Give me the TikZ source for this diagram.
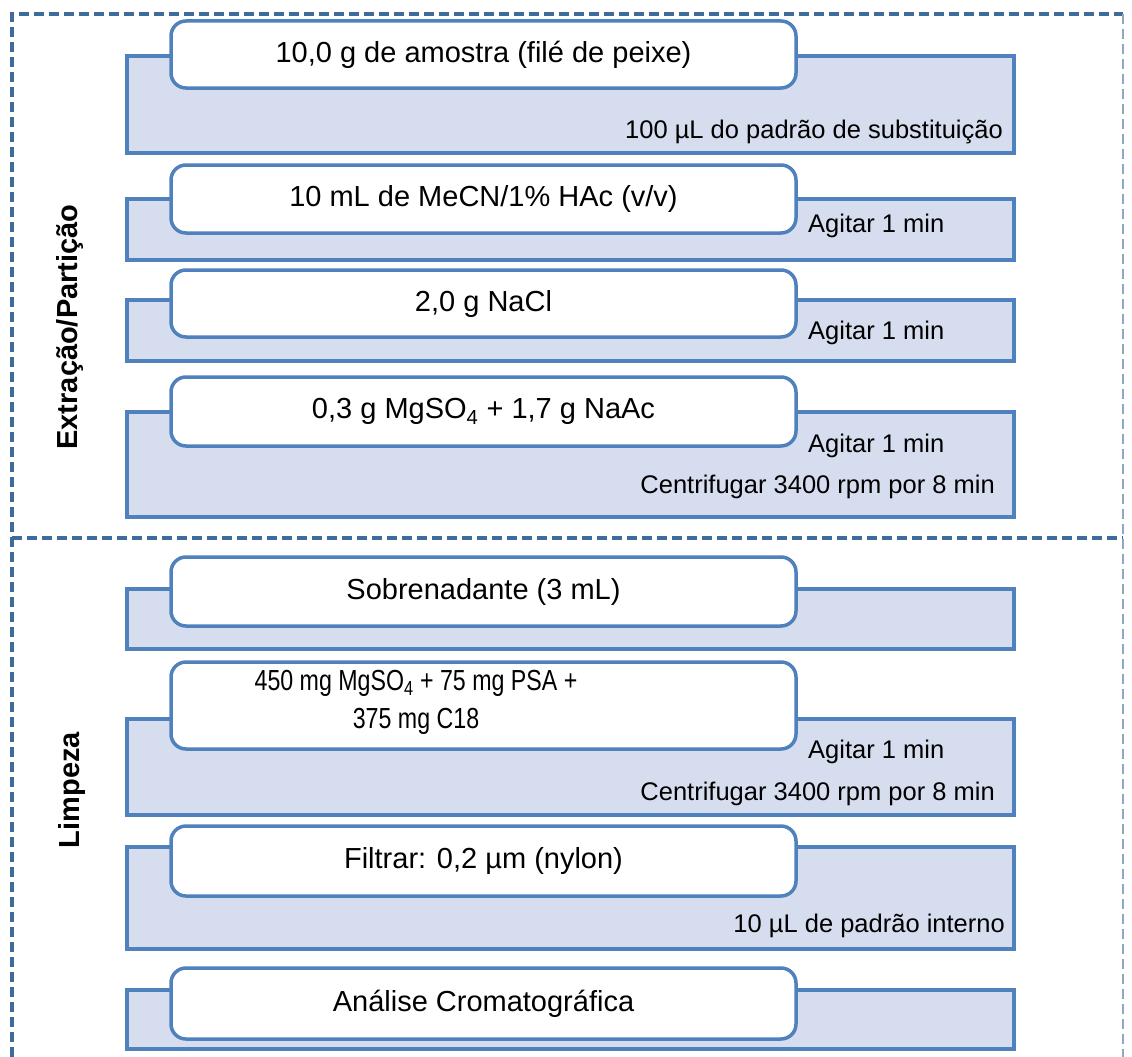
\documentclass[tikz,border=0pt]{standalone}
\usepackage{fontspec}
\setmainfont{Liberation Sans}
\definecolor{edge}{HTML}{4F81BD}
\definecolor{panelfill}{HTML}{D6DDEE}
\definecolor{frame}{HTML}{3F6A9C}
\definecolor{framelight}{HTML}{8FA7C6}

\begin{document}
\begin{tikzpicture}[x=1pt,y=-1pt,
  panel/.style={draw=edge, fill=panelfill, line width=3.5pt, rectangle,
    anchor=north west, inner sep=0pt, outer sep=0pt, minimum width=887pt},
  stepbox/.style={draw=edge, fill=white, line width=3.5pt, rounded corners=15pt,
    anchor=north west, inner sep=0pt, outer sep=0pt, minimum width=625pt,
    font=\fontsize{29}{38}\selectfont, align=center},
  note/.style={font=\fontsize{25.5}{30}\selectfont, inner sep=0pt},
  phase/.style={font=\bfseries\fontsize{29}{34}\selectfont, rotate=90, inner sep=0pt},
  frameline/.style={draw=frame, line width=3.5pt, dash pattern=on 10pt off 5pt}]

\useasboundingbox (0,0) rectangle (1132,1057);

% dashed frame around the two phases
\coordinate (tl) at (12,14);
\coordinate (tr) at (1123,14);
\coordinate (bl) at (12,1057);
\coordinate (br) at (1123,1057);
\coordinate (ml) at (12,538);
\coordinate (mr) at (1123,538);
\draw[frameline] (bl) -- (tl) -- (tr);
\draw[frameline] (ml) -- (mr);
\draw[frameline, draw=framelight, line width=2.5pt] (tr) -- (br);

% phase labels
\node[phase] (ext) at (70,327) {Extração/Partição};
\node[phase] (lim) at (72,790) {Limpeza};

% step 1
\node[panel, minimum height=97pt] (p1) at (127,56) {};
\node[stepbox, minimum height=67pt] (s1) at (171,21) {10,0 g de amostra (filé de peixe)};
\node[note, anchor=base east] (n1) at (1003,138) {100 µL do padrão de substituição};

% step 2
\node[panel, minimum height=61pt] (p2) at (127,199) {};
\node[stepbox, minimum height=68pt] (s2) at (171,165) {10 mL de MeCN/1\% HAc (v/v)};
\node[note, anchor=base west] (n2) at (808,232) {Agitar 1 min};

% step 3
\node[panel, minimum height=61pt] (p3) at (127,300) {};
\node[stepbox, minimum height=67pt] (s3) at (171,270) {2,0 g NaCl};
\node[note, anchor=base west] (n3) at (808,339) {Agitar 1 min};

% step 4
\node[panel, minimum height=105pt] (p4) at (127,412) {};
\node[stepbox, minimum height=69pt] (s4) at (171,377) {0,3 g MgSO\textsubscript{4} + 1,7 g NaAc};
\node[note, anchor=base west] (n4a) at (808,452) {Agitar 1 min};
\node[note, anchor=base east] (n4b) at (995,493) {Centrifugar 3400 rpm por 8 min};

% step 5
\node[panel, minimum height=60pt] (p5) at (127,589) {};
\node[stepbox, minimum height=69pt] (s5) at (171,557) {Sobrenadante (3 mL)};

% step 6: two condensed lines, set left of the box centre
\node[panel, minimum height=96pt] (p6) at (127,719) {};
\node[stepbox, minimum height=87pt] (s6) at (171,662) {};
\node[font=\fontsize{29}{38}\selectfont, align=center, inner sep=0pt] (t6) at (416,702)
  {\scalebox{0.8}[1]{450 mg MgSO\textsubscript{4} + 75 mg PSA +}\\\scalebox{0.8}[1]{375 mg C18}};
\node[note, anchor=base west] (n6a) at (808,758) {Agitar 1 min};
\node[note, anchor=base east] (n6b) at (995,800) {Centrifugar 3400 rpm por 8 min};

% step 7
\node[panel, minimum height=102pt] (p7) at (127,847) {};
\node[stepbox, minimum height=70pt] (s7) at (171,826) {Filtrar: 0,2 µm (nylon)};
\node[note, anchor=base east] (n7) at (1005,932) {10 µL de padrão interno};

% step 8
\node[panel, minimum height=59pt] (p8) at (127,990) {};
\node[stepbox, minimum height=71pt] (s8) at (171,968) {Análise Cromatográfica};

\end{tikzpicture}
\end{document}
